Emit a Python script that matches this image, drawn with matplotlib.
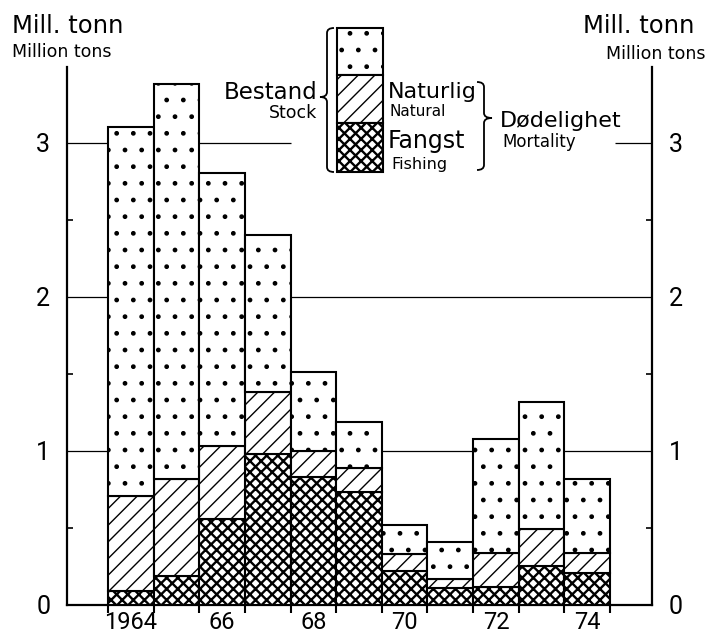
import numpy as np
import matplotlib as mpl
import matplotlib.pyplot as plt
from matplotlib.patches import Rectangle, PathPatch
from matplotlib.path import Path

# cod stock, million tons
years = np.arange(1964, 1975)
stock = [3.10, 3.38, 2.80, 2.40, 1.51, 1.19, 0.52, 0.41, 1.08, 1.32, 0.82]
natural = [0.62, 0.63, 0.47, 0.40, 0.17, 0.16, 0.11, 0.06, 0.22, 0.24, 0.13]
fishing = [0.09, 0.19, 0.56, 0.98, 0.83, 0.73, 0.22, 0.11, 0.12, 0.25, 0.21]
label_years = [1964, 1966, 1968, 1970, 1972, 1974]
year_labels = ['1964', '66', '68', '70', '72', '74']
y_ticks = [0, 1, 2, 3]

W, H = 707, 638
plt.rcParams['font.family'] = 'DejaVu Sans'
plt.rcParams['hatch.linewidth'] = 1.0
num_font, num_size = 'Roboto', 18


def fx(x):
    return x / W


def fy(y):
    return 1 - y / H


fig = plt.figure(figsize=(W / 100, H / 100), dpi=100)
ax = fig.add_axes([fx(67), fy(605), fx(652) - fx(67), fy(67) - fy(605)])

fishing = np.array(fishing)
natural = np.array(natural)
stock = np.array(stock)
rest = stock - natural - fishing

kw = dict(width=1.0, color='white', edgecolor='black', linewidth=1.5, zorder=3)
with mpl.rc_context({'hatch.linewidth': 1.7}):
    ax.bar(years, fishing, hatch='xxx', **kw)
ax.bar(years, natural, bottom=fishing, hatch='//', **kw)
ax.bar(years, rest, bottom=fishing + natural, hatch='.', **kw)

x0, x1 = 1962.60, 1975.42
ax.set_xlim(x0, x1)
ax.set_ylim(0, 3.49)

# horizontal rules, the top one broken around the key
ax.hlines([1, 2], x0, x1, color='black', lw=0.9, zorder=1)
ax.hlines(3, x0, 1967.5, color='black', lw=0.9, zorder=1)
ax.hlines(3, 1974.6, x1, color='black', lw=0.9, zorder=1)

ax.spines['top'].set_visible(False)
for s in ['left', 'right', 'bottom']:
    ax.spines[s].set_linewidth(1.6)

edges = np.append(years - 0.5, years[-1] + 0.5)
ax.set_xticks(edges)
ax.set_xticklabels([])
ax.set_xticks(label_years, minor=True)
ax.set_xticklabels(year_labels, minor=True, fontfamily=num_font, fontsize=17)
ax.tick_params(axis='x', which='major', direction='out', length=6, width=1.5)
ax.tick_params(axis='x', which='minor', length=0, pad=4)

ax.set_yticks(y_ticks)
ax.set_yticklabels([str(v) for v in y_ticks], fontfamily=num_font, fontsize=num_size)
ax.set_yticks([0.5, 1.5, 2.5], minor=True)
ax.tick_params(axis='y', which='both', left=True, right=True,
               labelleft=True, labelright=True)
ax.tick_params(axis='y', which='major', length=0, pad=12)
ax.tick_params(axis='y', which='minor', direction='in', length=4, width=1.2)

# unit titles on both sides
fig.text(fx(12), fy(33), 'Mill. tonn', fontsize=17.5, va='baseline')
fig.text(fx(12), fy(57), 'Million tons', fontsize=12.5, va='baseline')
fig.text(fx(694), fy(33), 'Mill. tonn', fontsize=17.5, ha='right', va='baseline')
fig.text(fx(705), fy(59), 'Million tons', fontsize=12.5, ha='right', va='baseline')

# key
for top, bot, h in [(28, 75, '.'), (75, 123, '//'), (123, 172, 'xxx')]:
    with mpl.rc_context({'hatch.linewidth': 1.7 if h == 'xxx' else 1.0}):
        fig.add_artist(Rectangle((fx(337), fy(bot)), fx(383) - fx(337), fy(top) - fy(bot),
                                 transform=fig.transFigure, facecolor='white',
                                 edgecolor='black', hatch=h, lw=1.5))


def brace(x_end, x_mid, x_tip, y_top, y_bot, y_tip, r=5):
    pts = [(x_end, y_top), (x_mid, y_top), (x_mid, y_top + r),
           (x_mid, y_tip - r), (x_mid, y_tip), (x_tip, y_tip),
           (x_mid, y_tip), (x_mid, y_tip + r),
           (x_mid, y_bot - r), (x_mid, y_bot), (x_end, y_bot)]
    codes = [Path.MOVETO, Path.CURVE3, Path.CURVE3,
             Path.LINETO, Path.CURVE3, Path.CURVE3,
             Path.CURVE3, Path.CURVE3,
             Path.LINETO, Path.CURVE3, Path.CURVE3]
    path = Path([(fx(x), fy(y)) for x, y in pts], codes)
    fig.add_artist(PathPatch(path, fill=False, lw=1.3, edgecolor='black',
                             transform=fig.transFigure))


brace(334, 327, 320, 28, 172, 97)
brace(477, 484, 492, 82, 170, 118)

fig.text(fx(317), fy(99), 'Bestand', fontsize=16.5, ha='right', va='baseline')
fig.text(fx(317), fy(118), 'Stock', fontsize=12.5, ha='right', va='baseline')
fig.text(fx(388), fy(98), 'Naturlig', fontsize=16, va='baseline')
fig.text(fx(390), fy(116), 'Natural', fontsize=11, va='baseline')
fig.text(fx(388), fy(148), 'Fangst', fontsize=17, va='baseline')
fig.text(fx(391), fy(169), 'Fishing', fontsize=11.5, va='baseline')
fig.text(fx(500), fy(127), 'Dødelighet', fontsize=16, va='baseline')
fig.text(fx(502), fy(147), 'Mortality', fontsize=12, va='baseline')

fig.savefig('out.png', dpi=100)
